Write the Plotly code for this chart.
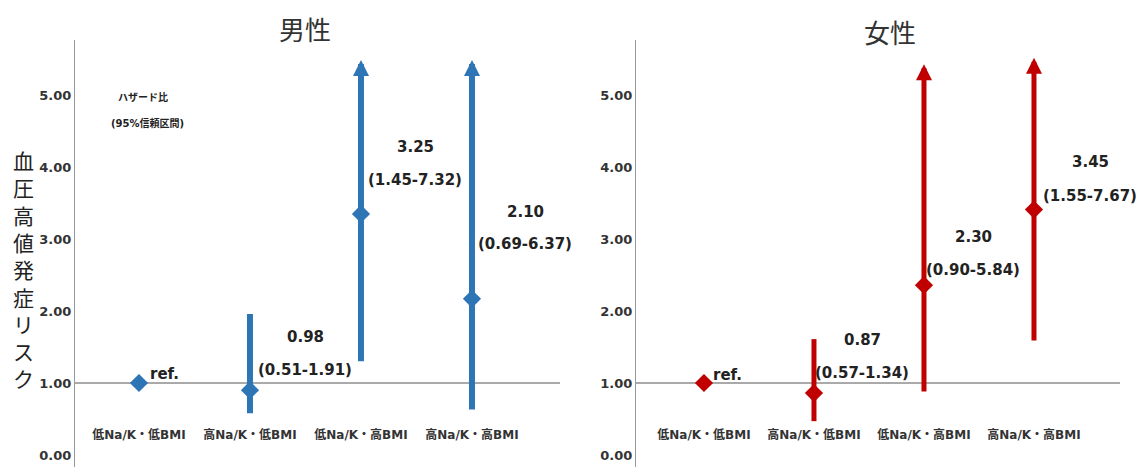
import plotly.graph_objects as go

categories = ["低Na/K・低BMI", "高Na/K・低BMI", "低Na/K・高BMI", "高Na/K・高BMI"]

# Male (男性)
male_hr = [1.00, 0.90, 3.35, 2.17]          # diamond position as drawn
male_lo = [None, 0.58, 1.28, 0.61]
male_hi = [None, 1.96, 5.49, 5.49]           # drawn upper end (arrows clipped)
male_arrow = [False, False, True, True]
male_labels = ["ref.", "0.98", "3.25", "2.10"]
male_ci = ["", "(0.51-1.91)", "(1.45-7.32)", "(0.69-6.37)"]

# Female (女性)
female_hr = [1.00, 0.86, 2.36, 3.41]
female_lo = [None, 0.47, 0.86, 1.57]
female_hi = [None, 1.61, 5.43, 5.52]
female_arrow = [False, False, True, True]
female_labels = ["ref.", "0.87", "2.30", "3.45"]
female_ci = ["", "(0.57-1.34)", "(0.90-5.84)", "(1.55-7.67)"]

y_ticks = [0, 1, 2, 3, 4, 5]

BLUE = "#2E75B6"
RED = "#C00000"
FONT = "DejaVu Sans, Noto Sans CJK JP, sans-serif"
CJK = "Noto Sans CJK JP, sans-serif"

# label placement (layout only)
male_lab_pos = [(0.23, 1.12, None), (1.5, 1.64, 1.18), (2.49, 4.28, 3.82), (3.48, 3.37, 2.93)]
female_lab_pos = [(0.21, 1.11, None), (1.44, 1.60, 1.14), (2.45, 3.03, 2.57), (3.51, 4.07, 3.60)]

fig = go.Figure()
annotations = []

def add_panel(xa, ya, hr, lo, hi, arrow, labels, ci, labpos, color, lw):
    xref, yref = xa, ya
    xs, ys = [], []
    for i in range(len(hr)):
        if lo[i] is not None and not arrow[i]:
            xs += [i, i, None]
            ys += [lo[i], hi[i], None]
    fig.add_trace(go.Scatter(x=xs, y=ys, mode="lines", line=dict(color=color, width=lw),
                             xaxis=xa, yaxis=ya, showlegend=False, hoverinfo="skip"))
    for i in range(len(hr)):
        if arrow[i]:
            annotations.append(dict(x=i, y=hi[i], ax=i, ay=lo[i], xref=xref, yref=yref,
                                    axref=xref, ayref=yref, text="", showarrow=True,
                                    arrowhead=2, arrowsize=3.2 / lw,
                                    arrowwidth=lw, arrowcolor=color, standoff=0))
    fig.add_trace(go.Scatter(x=list(range(len(hr))), y=hr, mode="markers",
                             marker=dict(symbol="diamond", size=14, color=color),
                             xaxis=xa, yaxis=ya, showlegend=False))
    fig.add_trace(go.Scatter(x=list(range(len(categories))), y=[0.26] * len(categories),
                             mode="text", text=[f"<b>{c}</b>" for c in categories],
                             textfont=dict(family=FONT, size=12, color="#333333"),
                             xaxis=xa, yaxis=ya, showlegend=False, hoverinfo="skip"))
    for i in range(len(hr)):
        px, py, pcy = labpos[i]
        annotations.append(dict(x=px, y=py, xref=xref, yref=yref, text=f"<b>{labels[i]}</b>",
                                showarrow=False, font=dict(family=FONT, size=15, color="#222222")))
        if ci[i]:
            annotations.append(dict(x=px, y=pcy, xref=xref, yref=yref, text=f"<b>{ci[i]}</b>",
                                    showarrow=False, font=dict(family=FONT, size=15, color="#222222")))


add_panel("x", "y", male_hr, male_lo, male_hi, male_arrow, male_labels, male_ci, male_lab_pos, BLUE, 6)
add_panel("x2", "y2", female_hr, female_lo, female_hi, female_arrow, female_labels, female_ci, female_lab_pos, RED, 5)

yaxis_common = dict(range=[-0.167, 5.764], tickvals=y_ticks, tickformat=".2f", showgrid=False,
                    zeroline=False, showline=True, linecolor="#999999", linewidth=1, ticks="",
                    tickfont=dict(family=FONT, size=13, color="#333333", weight="bold"),
                    domain=[0, 0.914], automargin=False)
xaxis_common = dict(showgrid=False, zeroline=False, showline=False, showticklabels=False, ticks="",
                    automargin=False)

fig.update_layout(
    width=1141, height=467,
    margin=dict(l=0, r=0, t=0, b=0),
    paper_bgcolor="white", plot_bgcolor="white",
    xaxis=dict(xaxis_common, domain=[0.0657, 0.4908], range=[-0.5766, 3.793]),
    xaxis2=dict(xaxis_common, domain=[0.5574, 0.9816], range=[-0.618, 3.782]),
    yaxis=dict(yaxis_common, anchor="x"),
    yaxis2=dict(yaxis_common, anchor="x2"),
    shapes=[
        dict(type="line", xref="x domain", yref="y", x0=0, x1=1, y0=1, y1=1,
             line=dict(color="#555555", width=1), layer="below"),
        dict(type="line", xref="x2 domain", yref="y2", x0=0, x1=1, y0=1, y1=1,
             line=dict(color="#555555", width=1), layer="below"),
    ],
)

annotations += [
    dict(x=305 / 1141, y=1 - 28 / 467, xref="paper", yref="paper", text="男性", showarrow=False,
         xanchor="center", yanchor="middle", font=dict(family=CJK, size=26, color="#333333")),
    dict(x=890 / 1141, y=1 - 32 / 467, xref="paper", yref="paper", text="女性", showarrow=False,
         xanchor="center", yanchor="middle", font=dict(family=CJK, size=26, color="#333333")),
    dict(x=23 / 1141, y=1 - 269 / 467, xref="paper", yref="paper",
         text="<br>".join(list("血圧高値発症リスク")), showarrow=False,
         xanchor="center", yanchor="middle", font=dict(family=CJK, size=21, color="#222222")),
    dict(x=0.04, y=4.97, xref="x", yref="y", text="<b>ハザード比</b>", showarrow=False,
         font=dict(family=FONT, size=10, color="#222222")),
    dict(x=0.08, y=4.61, xref="x", yref="y", text="<b>(95%信頼区間)</b>", showarrow=False,
         font=dict(family=FONT, size=10, color="#222222")),
]
fig.update_layout(annotations=annotations)

fig.write_html("out.html", config={"displayModeBar": False},
               post_script="document.body.style.margin='0';document.body.style.overflow='hidden';")
